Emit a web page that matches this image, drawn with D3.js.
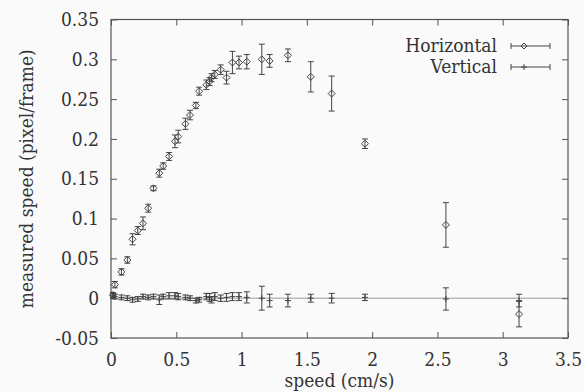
<!DOCTYPE html>
<html>
<head>
<meta charset="utf-8">
<script src="https://cdn.jsdelivr.net/npm/d3@7"></script>
<style>
  html, body { margin: 0; padding: 0; background: #fafafa; }
  svg { display: block; }
  svg text { font-family: "DejaVu Serif Condensed", "DejaVu Serif", serif; font-stretch: condensed; fill: #333; }
</style>
</head>
<body>
<svg id="chart" width="584" height="392"></svg>
<script>
// Stimulus speed (cm/s) for each measurement
const speeds = [0.015, 0.03, 0.08, 0.125, 0.165, 0.205, 0.245, 0.285, 0.325, 0.37,
  0.40, 0.445, 0.49, 0.515, 0.57, 0.605, 0.65, 0.675, 0.73, 0.755,
  0.77, 0.795, 0.84, 0.885, 0.93, 0.98, 1.04, 1.155, 1.215, 1.355,
  1.53, 1.69, 1.945, 2.565, 3.125];

// Measured horizontal speed (pixel/frame) and its error
const horizontalMean = [0.004, 0.017, 0.033, 0.048, 0.074, 0.085, 0.094, 0.113, 0.138, 0.157,
  0.166, 0.178, 0.197, 0.203, 0.219, 0.230, 0.242, 0.260, 0.268, 0.272,
  0.277, 0.281, 0.287, 0.277, 0.296, 0.296, 0.297, 0.300, 0.298, 0.305,
  0.278, 0.257, 0.194, 0.092, -0.020];
const horizontalErr = [0.003, 0.004, 0.004, 0.004, 0.007, 0.005, 0.008, 0.005, 0.003, 0.005,
  0.004, 0.005, 0.008, 0.008, 0.007, 0.006, 0.004, 0.005, 0.006, 0.005,
  0.005, 0.005, 0.006, 0.008, 0.014, 0.008, 0.009, 0.019, 0.008, 0.008,
  0.019, 0.022, 0.006, 0.028, 0.016];

// Measured vertical speed (pixel/frame) and its error
const verticalMean = [0.003, 0.002, 0.001, 0.000, -0.002, -0.001, 0.002, 0.001, 0.002, -0.002,
  0.002, 0.003, 0.003, 0.002, 0.001, 0.000, -0.003, -0.002, 0.002, 0.001,
  -0.002, 0.002, 0.000, 0.001, 0.002, 0.002, 0.001, 0.000, -0.003, -0.003,
  0.000, 0.000, 0.001, -0.001, -0.003];
const verticalErr = [0.003, 0.003, 0.003, 0.003, 0.003, 0.003, 0.003, 0.003, 0.003, 0.006,
  0.003, 0.004, 0.004, 0.004, 0.003, 0.003, 0.003, 0.003, 0.004, 0.005,
  0.004, 0.005, 0.004, 0.005, 0.005, 0.005, 0.007, 0.015, 0.008, 0.008,
  0.005, 0.006, 0.004, 0.014, 0.008];

const xTicks = [0, 0.5, 1, 1.5, 2, 2.5, 3, 3.5];
const yTicks = [-0.05, 0, 0.05, 0.1, 0.15, 0.2, 0.25, 0.3, 0.35];
const seriesNames = ["Horizontal", "Vertical"];

const margin = { left: 111, right: 16, top: 19.5, bottom: 54 };
const W = 584, H = 392;
const svg = d3.select("#chart");
const serif = "'DejaVu Serif Condensed', 'DejaVu Serif', serif";
const fs = 19;

const x = d3.scaleLinear().domain([0, 3.5]).range([margin.left, W - margin.right]);
const y = d3.scaleLinear().domain([-0.05, 0.35]).range([H - margin.bottom, margin.top]);

const ink = "#555";
const tickLen = 6;
const fmt = d => String(d);

// zero axis
svg.append("line")
  .attr("x1", x(0)).attr("x2", x(3.5))
  .attr("y1", y(0)).attr("y2", y(0))
  .attr("stroke", "#9a9a9a").attr("stroke-width", 1);

// axes with inward ticks, mirrored on top and right
const gBottom = svg.append("g").attr("transform", `translate(0,${y(-0.05)})`)
  .call(d3.axisBottom(x).tickValues(xTicks).tickSize(-tickLen).tickPadding(15).tickFormat(fmt));
const gTop = svg.append("g").attr("transform", `translate(0,${y(0.35)})`)
  .call(d3.axisTop(x).tickValues(xTicks).tickSize(-tickLen).tickFormat(""));
const gLeft = svg.append("g").attr("transform", `translate(${x(0)},0)`)
  .call(d3.axisLeft(y).tickValues(yTicks).tickSize(-tickLen).tickPadding(12).tickFormat(fmt));
const gRight = svg.append("g").attr("transform", `translate(${x(3.5)},0)`)
  .call(d3.axisRight(y).tickValues(yTicks).tickSize(-tickLen).tickFormat(""));

[gBottom, gTop, gLeft, gRight].forEach(g => {
  g.attr("font-family", serif);
  g.select(".domain").remove();
  g.selectAll(".tick line").attr("stroke", ink).attr("stroke-width", 1);
  g.selectAll(".tick text").attr("font-size", fs).attr("fill", "#333");
});
gBottom.selectAll(".tick text").attr("dy", "0.71em");

// frame
svg.append("rect")
  .attr("x", x(0)).attr("y", y(0.35))
  .attr("width", x(3.5) - x(0)).attr("height", y(-0.05) - y(0.35))
  .attr("fill", "none").attr("stroke", ink).attr("stroke-width", 1.2);

// axis titles
svg.append("text")
  .attr("x", (x(0) + x(3.5)) / 2).attr("y", 387)
  .attr("text-anchor", "middle").attr("font-size", fs)
  .text("speed (cm/s)");
svg.append("text")
  .attr("transform", `translate(33,${(y(-0.05) + y(0.35)) / 2}) rotate(-90)`)
  .attr("text-anchor", "middle").attr("font-size", fs)
  .text("measured speed (pixel/frame)");

const cap = 3;
function errorBars(g, means, errs) {
  const d = speeds.map((s, i) => ({ s, m: means[i], e: errs[i] }));
  const p = g.selectAll("g.eb").data(d).join("g").attr("class", "eb")
    .attr("stroke", "#444").attr("stroke-width", 1).attr("fill", "none");
  p.append("line").attr("x1", v => x(v.s)).attr("x2", v => x(v.s))
    .attr("y1", v => y(v.m - v.e)).attr("y2", v => y(v.m + v.e));
  p.append("line").attr("x1", v => x(v.s) - cap).attr("x2", v => x(v.s) + cap)
    .attr("y1", v => y(v.m - v.e)).attr("y2", v => y(v.m - v.e));
  p.append("line").attr("x1", v => x(v.s) - cap).attr("x2", v => x(v.s) + cap)
    .attr("y1", v => y(v.m + v.e)).attr("y2", v => y(v.m + v.e));
  return p;
}

const diamond = (cx, cy, r) => `M${cx},${cy - r}L${cx + r},${cy}L${cx},${cy + r}L${cx - r},${cy}Z`;
const plus = (cx, cy, r) => `M${cx - r},${cy}H${cx + r}M${cx},${cy - r}V${cy + r}`;

const gH = svg.append("g");
errorBars(gH, horizontalMean, horizontalErr)
  .append("path").attr("d", v => diamond(x(v.s), y(v.m), 3.5));

const gV = svg.append("g");
errorBars(gV, verticalMean, verticalErr)
  .append("path").attr("d", v => plus(x(v.s), y(v.m), 3));

// key
const key = svg.append("g");
const keyRows = [{ name: seriesNames[0], yy: 46, mark: diamond }, { name: seriesNames[1], yy: 67, mark: plus }];
keyRows.forEach(r => {
  key.append("text").attr("x", 497).attr("y", r.yy + 6).attr("text-anchor", "end")
    .attr("font-size", fs).text(r.name);
  const k = key.append("g").attr("stroke", "#444").attr("fill", "none").attr("stroke-width", 1);
  k.append("line").attr("x1", 511).attr("x2", 550).attr("y1", r.yy).attr("y2", r.yy);
  k.append("line").attr("x1", 511).attr("x2", 511).attr("y1", r.yy - cap).attr("y2", r.yy + cap);
  k.append("line").attr("x1", 550).attr("x2", 550).attr("y1", r.yy - cap).attr("y2", r.yy + cap);
  k.append("path").attr("d", r.mark(524, r.yy, 3));
});
</script>
</body>
</html>
